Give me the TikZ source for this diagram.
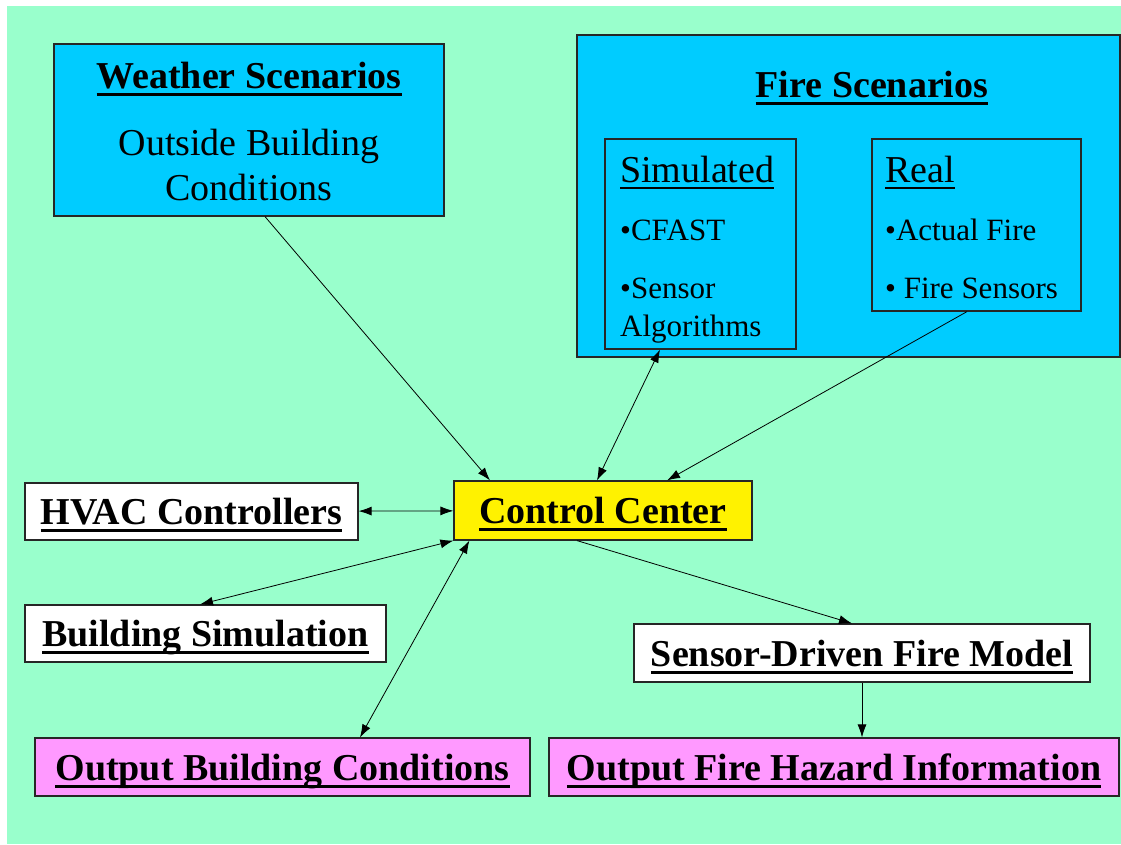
\documentclass[tikz,border=0pt]{standalone}
\usepackage{fontspec}
\setmainfont{Liberation Serif}
\usetikzlibrary{arrows.meta}
\definecolor{bggreen}{RGB}{153,255,204}
\definecolor{skyblue}{RGB}{0,204,255}
\definecolor{pinkbox}{RGB}{255,153,255}
% underlined heading: rule under the baseline, descenders ignored
\newcommand{\ulhead}[2][3pt]{\vtop{\hbox{\raisebox{0pt}[\height][0pt]{#2}}\kern4.5pt\hrule height #1}}
\begin{document}
\begin{tikzpicture}[x=1pt,y=-1pt,
	box/.style={draw=black!85,line width=1.2pt,inner sep=0pt,text depth=0pt},
	big/.style={font=\fontsize{38}{44}\selectfont},
	item/.style={font=\fontsize{31}{36}\selectfont,anchor=base west,inner sep=0pt},
	link/.style={line width=0.8pt},
	>={Latex[length=13pt,width=9pt]}]

	  \useasboundingbox (0,0) rectangle (1121,844);
	  \fill[white] (0,0) rectangle (1121,844);
	  \fill[bggreen] (7,6) rectangle (1121,844);

	  % scenarios
	  \node[box,fill=skyblue,minimum width=390pt,minimum height=172pt] (weather) at (249,130) {};
	  \node[big,anchor=base,inner sep=0pt] (wtitle) at (249,88) {\textbf{\ulhead{Weather Scenarios}}};
	  \node[big,anchor=base,inner sep=0pt] (wline1) at (249,155) {Outside Building};
	  \node[big,anchor=base,inner sep=0pt] (wline2) at (249,200) {Conditions};

	  \node[box,fill=skyblue,minimum width=543pt,minimum height=322pt] (fire) at (848.5,196) {};
	  \node[big,anchor=base,inner sep=0pt] (ftitle) at (872,97) {\textbf{\ulhead{Fire Scenarios}}};

	  \node[box,minimum width=191pt,minimum height=210pt] (simul) at (700.5,244) {};
	  \node[big,anchor=base west,inner sep=0pt] (stitle) at (620,182) {\ulhead[2pt]{Simulated}};
	  \node[item] (cfast) at (620,240) {•CFAST};
	  \node[item] (sensor) at (620,298) {•Sensor};
	  \node[item] (algo) at (620,336) {Algorithms};

	  \node[box,minimum width=209pt,minimum height=172pt] (real) at (976.5,225) {};
	  \node[big,anchor=base west,inner sep=0pt] (rtitle) at (885,182) {\ulhead[2pt]{Real}};
	  \node[item] (actual) at (885,240) {•Actual Fire};
	  \node[item] (fsens) at (885,298) {• Fire Sensors};

	  % centre and the rest
	  \node[box,big,fill=yellow,minimum width=298pt,minimum height=59pt] (control) at (603,510.5) {\textbf{\ulhead{Control Center}}};
	  \node[box,big,fill=white,minimum width=333pt,minimum height=57pt] (hvac) at (191.5,511.5) {\textbf{\ulhead{HVAC Controllers}}};
	  \node[box,big,fill=white,minimum width=361pt,minimum height=57pt] (bsim) at (205.5,633.5) {\textbf{\ulhead{Building Simulation}}};
	  \node[box,big,fill=white,minimum width=456pt,minimum height=58pt] (sdfm) at (862,653) {\textbf{\ulhead{Sensor-Driven Fire Model}}};
	  \node[box,big,fill=pinkbox,minimum width=495pt,minimum height=58pt] (outb) at (282.5,767) {\textbf{\ulhead{Output Building Conditions}}};
	  \node[box,big,fill=pinkbox,minimum width=570pt,minimum height=58pt] (outf) at (834,767) {\textbf{\ulhead{Output Fire Hazard Information}}};

	  \draw[link,->] ([xshift=16pt]weather.south) -- ([xshift=-113pt]control.north);
	  \draw[link,<->] ([xshift=-40.5pt]simul.south) -- ([xshift=-6pt]control.north);
	  \draw[link,->] ([xshift=-9.5pt]real.south) -- ([xshift=64pt]control.north);
	  \draw[link,<->] (hvac) -- (control);
	  \draw[link,<->] ([xshift=-5.5pt]bsim.north) -- (control.south west);
	  \draw[link,<->] ([xshift=77.5pt]outb.north) -- ([xshift=16pt]control.south west);
	  \draw[link,->] ([xshift=-26pt]control.south) -- ([xshift=-10pt]sdfm.north);
	  \draw[link,->] (sdfm.south) -- (sdfm.south |- outf.north);
	\end{tikzpicture}
\end{document}
